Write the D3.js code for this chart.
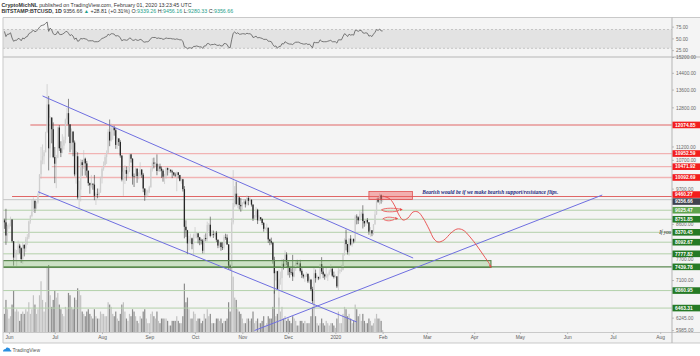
<!DOCTYPE html>
<html><head><meta charset="utf-8">
<script src="https://cdn.jsdelivr.net/npm/d3@7"></script>
<style>
html,body{margin:0;padding:0;background:#fff;}
svg{display:block;font-family:"Liberation Sans",Arial,sans-serif;}
</style></head><body>
<svg id="c" width="700" height="356"></svg>
<script>
// ---------------- DATA ----------------
const startDate = "2019-05-29";
// daily candles [open, high, low, close], BITSTAMP:BTCUSD 1D
const ohlc = [
[8720,8770,8470,8660],[8660,9070,8020,8280],[8280,8590,8100,8550],
// Jun
[8550,8630,8470,8560],[8560,8830,8540,8740],[8740,8760,8080,8120],[8120,8120,7470,7680],[7680,7900,7590,7790],
[7790,7880,7460,7810],[7810,8140,7760,8000],[8000,8050,7790,7930],[7930,7950,7540,7640],[7640,8090,7520,8020],
[8020,8030,7710,7920],[7920,8240,7830,8170],[8170,8320,8020,8230],[8230,8710,8180,8690],[8690,8880,8620,8850],
[8850,9350,8810,8980],[8980,9430,8980,9320],[9320,9330,8940,9080],[9080,9300,9050,9270],[9270,9580,9230,9530],
[9530,10210,9520,10200],[10200,11200,10050,10700],[10700,11300,10560,10850],[10850,11080,10560,11000],[11000,11800,11000,11780],
[11780,13880,11740,12950],[12950,13330,10340,11150],[11150,12440,10800,12380],[12380,12400,11340,11900],[11900,12180,10780,10820],
// Jul
[10820,11200,9900,10580],[10580,10900,9730,10800],[10800,12000,10780,11970],[11970,12070,11050,11150],[11150,11420,10820,10980],
[10980,11700,10960,11250],[11250,11600,11100,11480],[11480,12340,11340,12300],[12300,12800,12120,12570],[12570,13200,11600,12100],
[12100,12100,11000,11350],[11350,11930,11100,11800],[11800,11830,10850,11370],[11370,11450,10130,10200],[10200,11050,9880,10850],
[10850,11000,9370,9430],[9430,9980,9080,9680],[9680,10750,9300,10630],[10630,10720,10150,10530],[10530,11080,10390,10760],
[10760,10800,10160,10590],[10590,10680,10100,10330],[10330,10330,9810,9900],[9900,9920,9550,9830],[9830,10180,9750,9880],
[9880,9890,9680,9850],[9850,10180,9340,9480],[9480,9590,9190,9530],[9530,9720,9400,9510],[9510,9720,9400,9590],
[9590,10120,9580,10090],
// Aug
[10090,10450,9890,10400],[10400,10660,10330,10530],[10530,10910,10510,10820],[10820,11070,10570,10980],[10980,11900,10980,11800],
[11800,12300,11230,11450],[11450,12130,11410,11960],[11960,12050,11480,11970],[11970,12040,11640,11860],[11860,11950,11130,11280],
[11280,11570,11120,11530],[11530,11540,11240,11390],[11390,11460,10800,10880],[10880,10880,9960,10020],[10020,10440,9480,10300],
[10300,10530,9870,10350],[10350,10480,9980,10220],[10220,10480,10100,10320],[10320,10960,10280,10920],[10920,10940,10620,10760],
[10760,10780,9850,10130],[10130,10230,9770,10120],[10120,10440,10100,10400],[10400,10410,9910,10140],[10140,10270,10030,10140],
[10140,10630,10130,10370],[10370,10380,10080,10190],[10190,10250,9600,9720],[9720,9720,9320,9500],[9500,9680,9420,9590],
[9590,9680,9450,9630],
// Sep
[9630,9810,9570,9760],[9760,10450,9750,10380],[10380,10780,10300,10620],[10620,10800,10410,10580],[10580,10640,10460,10580],
[10580,10920,10170,10320],[10320,10560,10300,10480],[10480,10580,10300,10400],[10400,10480,10080,10330],[10330,10380,9950,10120],
[10120,10220,9870,10160],[10160,10450,10050,10420],[10420,10440,10160,10360],[10360,10420,10250,10360],[10360,10380,10260,10310],
[10310,10360,10070,10270],[10270,10270,10140,10190],[10190,10260,10110,10160],[10160,10300,9630,10270],[10270,10280,10060,10180],
[10180,10180,9960,9980],[9980,10080,9880,10030],[10030,10050,9620,9700],[9700,9800,8200,8530],[8530,8720,8240,8430],
[8430,8440,7770,8060],[8060,8270,7870,8190],[8190,8330,8060,8200],[8200,8220,7900,8040],[8040,8330,7720,8300],
// Oct
[8300,8520,8200,8300],[8300,8370,8200,8340],[8340,8350,8060,8230],[8230,8240,8010,8150],[8150,8190,8030,8140],
[8140,8180,7790,7860],[7860,8300,7770,8210],[8210,8340,8120,8180],[8180,8680,8110,8580],[8580,8640,8410,8590],
[8590,8830,8230,8270],[8270,8430,8270,8320],[8320,8420,8210,8300],[8300,8390,8250,8360],[8360,8410,8100,8160],
[8160,8170,7930,8000],[8000,8110,7940,8080],[8080,8100,7860,7960],[7960,8090,7880,7950],[7950,8290,7890,8230],
[8230,8330,8160,8220],[8220,8310,8020,8030],[8030,8040,7370,7470],[7470,7500,7360,7410],[7410,8790,7390,8660],
[8660,10350,8600,9250],[9250,9800,9120,9550],[9550,9950,9180,9220],[9220,9560,9090,9430],[9430,9440,9050,9190],
[9190,9410,8980,9150],
// Nov
[9150,9280,9040,9250],[9250,9380,9210,9300],[9300,9360,9110,9210],[9210,9500,9170,9410],[9410,9470,9180,9320],
[9320,9440,9290,9350],[9350,9370,9140,9200],[9200,9210,8700,8770],[8770,8880,8750,8810],[8810,9120,8780,9040],
[9040,9070,8610,8720],[8720,8870,8700,8810],[8810,8820,8710,8760],[8760,8780,8580,8640],[8640,8670,8390,8470],
[8470,8520,8440,8490],[8490,8620,8390,8500],[8500,8510,8070,8170],[8170,8190,8010,8120],[8120,8220,8030,8080],
[8080,8100,7520,7620],[7620,7700,6790,7280],[7280,7350,7100,7330],[7330,7340,6880,6900],[6900,7370,6520,7130],
[7130,7320,7000,7160],[7160,7650,6860,7520],[7520,7630,7370,7430],[7430,7870,7420,7760],[7760,7820,7480,7570],
// Dec
[7570,7570,7230,7420],[7420,7420,7170,7310],[7310,7400,7240,7300],[7300,7750,7090,7200],[7200,7490,7180,7400],
[7400,7600,7340,7540],[7540,7620,7480,7510],[7510,7580,7430,7530],[7530,7620,7300,7340],[7340,7400,7160,7240],
[7240,7270,7150,7200],[7200,7250,7070,7200],[7200,7310,7190,7260],[7260,7280,7040,7080],[7080,7200,7030,7120],
[7120,7140,6850,6890],[6890,6950,6560,6620],[6620,7430,6440,7280],[7280,7370,7050,7160],[7160,7230,7110,7190],
[7190,7190,7110,7150],[7150,7520,7130,7510],[7510,7690,7260,7320],[7320,7440,7160,7250],[7250,7270,7120,7200],
[7200,7440,7160,7200],[7200,7270,7090,7250],[7250,7370,7230,7320],[7320,7510,7300,7390],[7390,7410,7190,7220],
[7220,7320,7150,7190],
// Jan
[7190,7250,7160,7200],[7200,7210,6920,6960],[6960,7410,6870,7340],[7340,7390,7270,7360],[7360,7490,7310,7360],
[7360,7800,7350,7770],[7770,8200,7730,8160],[8160,8450,7870,8040],[8040,8050,7760,7820],[7820,8200,7730,8190],
[8190,8290,8000,8030],[8030,8190,7970,8180],[8180,8200,8060,8110],[8110,8880,8100,8830],[8830,8900,8600,8810],
[8810,8840,8610,8720],[8720,9010,8700,8910],[8910,8980,8800,8920],[8920,9180,8480,8700],[8700,8710,8530,8630],
[8630,8760,8560,8730],[8730,8790,8620,8660],[8660,8670,8300,8390],[8390,8520,8240,8430],[8430,8430,8260,8340],
[8340,8610,8300,8600],[8600,9000,8590,8900],[8900,9400,8880,9390],[9390,9430,9250,9290],[9290,9560,9200,9500],
[9500,9530,9230,9340],
// Feb 1
[9339.26,9456.16,9280.33,9356.66]
];
// daily volume, thousands of BTC
const volumes = [
8,14,10,
6,7,12,18,9,10,9,5,8,9,8,10,9,13,8,10,16,12,8,10,16,22,14,9,13,28,29,16,11,14,
18,15,17,12,10,8,7,11,10,17,16,11,10,15,14,19,18,16,9,8,7,9,10,8,7,6,10,7,6,6,9,
8,8,7,7,13,12,11,8,7,9,6,5,8,12,13,9,6,5,8,7,10,9,7,5,4,7,6,9,10,6,4,
4,8,9,7,6,9,5,4,6,6,6,6,5,3,3,5,5,5,7,5,4,4,7,21,13,15,10,6,6,9,
8,5,6,6,4,5,8,6,10,7,8,4,4,4,6,6,5,6,4,5,5,6,13,9,30,24,15,14,10,9,8,
6,4,4,6,6,5,6,9,4,5,6,4,4,5,7,3,4,7,6,6,11,18,7,8,15,9,11,6,7,5,
6,5,4,7,6,5,3,3,5,5,4,5,4,4,4,7,11,14,7,4,3,4,6,4,3,5,4,3,4,4,3,
2,6,9,4,4,8,11,10,7,8,6,4,5,12,10,7,8,5,8,5,4,4,6,5,3,4,6,8,6,6,5,
1
];
// RSI(14) daily values
const rsi = [
66,55,60,
60,63,52,45,47,47,51,50,46,52,50,54,55,61,63,65,69,65,67,70,75,78,79,80,83,86,66,73,69,61,
59,60,66,60,59,60,62,65,66,62,57,59,56,49,52,45,46,51,50,51,50,49,46,46,46,46,44,44,44,45,48,
51,52,54,55,60,58,61,61,60,56,57,56,52,46,48,48,47,48,52,51,47,47,49,47,47,49,48,44,43,44,44,
46,51,53,53,53,51,52,51,51,49,50,52,51,51,51,50,50,49,50,49,48,48,45,33,32,29,31,31,30,34,
34,35,34,33,33,30,35,35,40,40,37,38,38,39,37,36,37,35,35,40,40,38,32,31,48,62,65,61,63,60,60,
61,61,60,62,61,61,59,53,54,56,52,53,52,51,49,49,49,45,45,44,38,34,35,30,34,34,40,39,44,42,
40,39,39,38,41,43,43,43,41,40,39,39,40,38,39,35,31,43,42,42,42,48,45,44,44,44,45,46,47,44,44,
44,41,48,48,48,55,61,59,55,60,58,59,58,68,68,66,68,68,63,62,63,62,56,57,55,60,64,70,68,71,67,
67
];
const rsiLevels = [70, 30];
const rsiTicks = [75, 50, 25];

const priceTicks = [15200,14400,13600,12800,11200,10700,9700,8600,7700,7100,6245,5985];
const resistanceLevels = [12074.85, 10952.59, 10471.92, 10092.69, 9460.27];
const resistanceStarts = ["2019-06-15","2019-07-10","2019-06-29","2019-06-21","2019-06-03"];
const resistanceStrong = [true, false, false, false, true];
const supportLevels = [9025.47, 8751.85, 8370.45, 8092.67, 7777.82, 7439.78, 6860.95, 6463.31];
const supportStrong = [false, false, false, false, false, true, false, false];
const lastPrice = 9356.66;

const supportZone = {to:"2020-04-12", top:7600, bottom:7425};
const resistanceZone = {from:"2020-01-23", to:"2020-02-20T12:00", top:9622, bottom:9362};

const channelUpper = [["2019-06-23", 13330], ["2020-02-21", 7667]];
const channelLower = [["2019-06-20", 9614], ["2020-01-15", 6164]];
const risingLine   = [["2019-11-09", 5987], ["2020-06-24", 9506]];

const projDates  = ["2020-02-01","2020-02-05T19:00","2020-02-09","2020-02-11T17:00","2020-02-14T10:00","2020-02-17T14:00",
                    "2020-02-20T22:00","2020-02-24T05:00","2020-02-27T12:00","2020-03-02T10:00","2020-03-05T17:00","2020-03-08T07:00",
                    "2020-03-12T05:00","2020-03-16T19:00","2020-03-20T19:00","2020-03-24T17:00","2020-03-29T07:00","2020-04-02T22:00",
                    "2020-04-07T12:00","2020-04-12"];
const projPrices = [9474,9379,9156,8880,8729,8789,8971,8971,8789,8465,8181,8098,8152,8351,8465,8436,8239,7989,7720,7461];

const smallArrows = [
  {from:"2020-01-31", to:"2020-02-13", price:9032},
  {from:"2020-02-01", to:"2020-02-10", price:8760}
];

const noteText = "Bearish would be if we make bearish support/resistance flips.";
const noteAt = {date:"2020-02-27", price:9540};
const sideNote = "If you";
const sideNoteAt = {date:"2020-08-01", price:8330};

const monthTicks = ["2019-06-01","2019-07-01","2019-08-01","2019-09-01","2019-10-01","2019-11-01","2019-12-01",
                    "2020-01-01","2020-02-01","2020-03-01","2020-04-01","2020-05-01","2020-06-01","2020-07-01","2020-08-01"];

// ---------------- LAYOUT ----------------
const W = 700, H = 356;
const L = 3, R = 672, T = 17.5, SEP = 57, B = 332.5, AXB = 343;
const bg = "#f4f4f4", border = "#c9c9c9";

const parse = s => d3.isoParse(s.length === 10 ? s + "T00:00:00Z" : s + "Z");
const day0 = parse(startDate);
const dates = ohlc.map((_, i) => d3.utcDay.offset(day0, i));

const x = d3.scaleUtc().domain([parse("2019-06-01"), parse("2020-08-01")]).range([9, 660.2]);
const y = d3.scaleLog().domain([5985, 15200]).range([330.6, 57.5]);
const ry = d3.scaleLinear().domain([0, 100]).range([62.4, 15.4]);
const vy = d3.scaleLinear().domain([0, 32]).range([B, 258]);

const svg = d3.select("#c");
svg.append("rect").attr("width", W).attr("height", H).attr("fill", "#fff");
svg.append("rect").attr("x", L).attr("y", T).attr("width", W - L).attr("height", AXB - T).attr("fill", bg);

const defs = svg.append("defs");
defs.append("clipPath").attr("id", "cm").append("rect").attr("x", L).attr("y", SEP).attr("width", R - L).attr("height", B - SEP);
defs.append("clipPath").attr("id", "cr").append("rect").attr("x", L).attr("y", T).attr("width", R - L).attr("height", SEP - T);

// ---------- RSI pane ----------
const rp = svg.append("g").attr("clip-path", "url(#cr)");
rp.append("rect").attr("x", L).attr("width", R - L)
  .attr("y", ry(rsiLevels[0])).attr("height", ry(rsiLevels[1]) - ry(rsiLevels[0])).attr("fill", "#e3e3e3");
rp.selectAll("line.lv").data(rsiLevels).join("line")
  .attr("x1", L).attr("x2", R).attr("y1", d => ry(d)).attr("y2", d => ry(d))
  .attr("stroke", "#b4b4b4").attr("stroke-width", 0.7).attr("stroke-dasharray", "2,2");
rp.append("path").datum(rsi)
  .attr("d", d3.line().x((d, i) => x(dates[i])).y(d => ry(d)))
  .attr("fill", "none").attr("stroke", "#6a6a6a").attr("stroke-width", 0.9);

// ---------- main pane ----------
const mp = svg.append("g").attr("clip-path", "url(#cm)");

// volume
mp.selectAll("rect.vol").data(volumes).join("rect")
  .attr("x", (d, i) => x(dates[i]) - 0.6).attr("width", 1.2)
  .attr("y", d => vy(d)).attr("height", d => B - vy(d))
  .attr("fill", (d, i) => ohlc[i][3] >= ohlc[i][0] ? "#c2c2c2" : "#8c8c8c");

// support lines
supportLevels.forEach((v, i) => {
  mp.append("line").attr("x1", L).attr("x2", R).attr("y1", y(v)).attr("y2", y(v))
    .attr("stroke", supportStrong[i] ? "#5d8a52" : "#b3d0aa").attr("stroke-width", supportStrong[i] ? 1.4 : 1);
});
// last price line
mp.append("line").attr("x1", L).attr("x2", R).attr("y1", y(lastPrice)).attr("y2", y(lastPrice))
  .attr("stroke", "#c4c4c4").attr("stroke-width", 1);
// resistance lines
resistanceLevels.forEach((v, i) => {
  mp.append("line").attr("x1", x(parse(resistanceStarts[i]))).attr("x2", R).attr("y1", y(v)).attr("y2", y(v))
    .attr("stroke", resistanceStrong[i] ? "#e06666" : "#f1b3b3").attr("stroke-width", resistanceStrong[i] ? 1.1 : 1.3);
});

// candles
const cg = mp.append("g");
cg.selectAll("line.wick").data(ohlc).join("line")
  .attr("x1", (d, i) => x(dates[i])).attr("x2", (d, i) => x(dates[i]))
  .attr("y1", d => y(d[1])).attr("y2", d => y(d[2]))
  .attr("stroke", d => d[3] >= d[0] ? "#bdbdbd" : "#3a3a3a").attr("stroke-width", 0.6);
cg.selectAll("rect.body").data(ohlc).join("rect")
  .attr("x", (d, i) => x(dates[i]) - 0.65).attr("width", 1.3)
  .attr("y", d => y(Math.max(d[0], d[3])))
  .attr("height", d => Math.max(0.6, Math.abs(y(d[0]) - y(d[3]))))
  .attr("fill", d => d[3] >= d[0] ? "#cfcfcf" : "#262626");

// support zone
mp.append("rect").attr("x", L).attr("width", x(parse(supportZone.to)) - L)
  .attr("y", y(supportZone.top)).attr("height", y(supportZone.bottom) - y(supportZone.top))
  .attr("fill", "rgba(130,190,110,0.35)").attr("stroke", "#5d8a52").attr("stroke-width", 1.2);

// trend lines
[channelUpper, channelLower, risingLine].forEach(seg => {
  mp.append("line")
    .attr("x1", x(parse(seg[0][0]))).attr("y1", y(seg[0][1]))
    .attr("x2", x(parse(seg[1][0]))).attr("y2", y(seg[1][1]))
    .attr("stroke", "#6e6ee0").attr("stroke-width", 1);
});

// resistance zone
mp.append("rect").attr("x", x(parse(resistanceZone.from)))
  .attr("width", x(parse(resistanceZone.to)) - x(parse(resistanceZone.from)))
  .attr("y", y(resistanceZone.top)).attr("height", y(resistanceZone.bottom) - y(resistanceZone.top))
  .attr("fill", "rgba(240,90,90,0.45)").attr("stroke", "#e05050").attr("stroke-width", 0.8);

// projection path
const proj = projDates.map((d, i) => [x(parse(d)), y(projPrices[i])]);
mp.append("path").datum(proj).attr("d", d3.line().curve(d3.curveCatmullRom.alpha(0.5)))
  .attr("fill", "none").attr("stroke", "#e84a4a").attr("stroke-width", 0.9);
const pe = proj[proj.length - 1];
mp.append("path").attr("d", `M${pe[0]-2},${pe[1]-1.5} L${pe[0]+1.2},${pe[1]+1} L${pe[0]-1},${pe[1]+1.4}Z`).attr("fill", "#e84a4a");

// small arrows
smallArrows.forEach(a => {
  const x0 = x(parse(a.from)), x1 = x(parse(a.to)), ym = y(a.price);
  mp.append("path")
    .attr("d", `M${x0},${ym} C${x0+4},${ym-2.6} ${x1-5},${ym-2} ${x1},${ym-0.6} M${x1-2},${ym+0.4} C${x1-6},${ym+2.4} ${x0+3},${ym+2.2} ${x0+1},${ym+0.2}`)
    .attr("fill", "none").attr("stroke", "#e84a4a").attr("stroke-width", 0.8);
  mp.append("path").attr("d", `M${x1+1.8},${ym-0.4} L${x1-1.2},${ym-2} L${x1-0.8},${ym+1}Z`).attr("fill", "#e84a4a");
});

// annotation text
mp.append("text").attr("x", x(parse(noteAt.date))).attr("y", y(noteAt.price))
  .attr("font-family", "'Liberation Serif','DejaVu Serif',serif").attr("font-style", "italic").attr("font-weight", "bold")
  .attr("font-size", 6.2).attr("fill", "#1f2a80").attr("textLength", 136).attr("lengthAdjust", "spacingAndGlyphs")
  .text(noteText);
mp.append("text").attr("x", x(parse(sideNoteAt.date)) - 1).attr("y", y(sideNoteAt.price))
  .attr("font-family", "'Liberation Serif','DejaVu Serif',serif").attr("font-style", "italic")
  .attr("font-size", 5.8).attr("fill", "#222").attr("textLength", 12).attr("lengthAdjust", "spacingAndGlyphs").text(sideNote);

// ---------- borders ----------
const bl = (x1, y1, x2, y2, c, w) => svg.append("line").attr("x1", x1).attr("y1", y1).attr("x2", x2).attr("y2", y2)
  .attr("stroke", c || border).attr("stroke-width", w || 1);
bl(L, T, W, T);
bl(L, SEP, W, SEP, "#b5b5b5", 1.2);
bl(L, B, W, B);
bl(L, AXB, W, AXB);
bl(L, T, L, AXB);
bl(R, T, R, AXB, "#b5b5b5", 1);

// ---------- price labels (boxes) ----------
let labels = [
  ...resistanceLevels.map(v => ({v, c: "#f21d1d"})),
  {v: lastPrice, c: "#40434f"},
  ...supportLevels.map(v => ({v, c: v === 9025.47 ? "#5ea34c" : "#257a25"}))
];
labels.forEach(l => l.y = y(l.v));
labels.sort((a, b) => a.y - b.y);
for (let k = 0; k < 6; k++) {
  for (let i = 0; i < labels.length - 1; i++) {
    const d = labels[i + 1].y - labels[i].y;
    if (d < 7) { const o = (7 - d) / 2; labels[i].y -= o; labels[i + 1].y += o; }
  }
}
const BH = 6.6;

// ---------- right axis ticks ----------
const ax = svg.append("g").attr("font-size", 4.8).attr("fill", "#6a6a6a");
rsiTicks.forEach(v => {
  bl(R, ry(v), R + 2, ry(v), "#999", 0.6);
  ax.append("text").attr("x", R + 4).attr("y", ry(v) + 1.7).text(v.toFixed(2));
});
priceTicks.forEach(v => {
  const ty = y(v);
  let cy = ty;                       // centre of the text
  const half = 1.9;
  labels.forEach(l => {              // keep tick text clear of the value boxes
    const top = l.y - BH / 2, bot = l.y + BH / 2;
    if (cy + half > top && cy - half < bot) {
      cy = (cy >= l.y) ? bot + half + 0.3 : top - half - 0.3;
    }
  });
  bl(R, ty, R + 2, ty, "#999", 0.6);
  ax.append("text").attr("x", R + 4).attr("y", cy + 1.7).text(v.toFixed(2));
});

const lg = svg.append("g");
labels.forEach(l => {
  lg.append("rect").attr("x", R + 0.5).attr("y", l.y - BH / 2).attr("width", W - R - 0.5).attr("height", BH).attr("fill", l.c);
  lg.append("text").attr("x", R + 3).attr("y", l.y + 1.75).attr("font-size", 4.9).attr("font-weight", "bold")
    .attr("fill", "#fff").text(l.v.toFixed(2));
});

// ---------- time axis ----------
const xa = svg.append("g").attr("transform", `translate(0,${B})`)
  .call(d3.axisBottom(x).tickValues(monthTicks.map(parse)).tickSize(1.5).tickPadding(1.8)
        .tickFormat(d => d.getUTCMonth() === 0 ? d3.utcFormat("%Y")(d) : d3.utcFormat("%b")(d)));
xa.select(".domain").remove();
xa.selectAll(".tick line").attr("stroke", "#999").attr("stroke-width", 0.6);
xa.selectAll(".tick text").attr("font-size", 4.9).attr("fill", "#5a5a5a").attr("font-family", "'Liberation Sans',Arial,sans-serif");

// ---------- header ----------
const h1 = svg.append("text").attr("x", 1.5).attr("y", 6.6).attr("font-size", 5.3).attr("fill", "#333");
h1.append("tspan").attr("font-weight", "bold").text("CryptoMichNL");
h1.append("tspan").text(" published on TradingView.com, February 01, 2020 13:23:45 UTC");
const h2 = svg.append("text").attr("x", 1.5).attr("y", 12.6).attr("font-size", 5.3).attr("fill", "#333");
const teal = "#1e9e8a";
h2.append("tspan").attr("font-weight", "bold").text("BITSTAMP:BTCUSD, 1D ");
h2.append("tspan").text("9356.66 ");
h2.append("tspan").attr("fill", teal).text("▲");
h2.append("tspan").text(" +28.81 (+0.31%) O:");
h2.append("tspan").attr("fill", teal).text("9339.26");
h2.append("tspan").text(" H:");
h2.append("tspan").attr("fill", teal).text("9456.16");
h2.append("tspan").text(" L:");
h2.append("tspan").attr("fill", teal).text("9280.33");
h2.append("tspan").text(" C:");
h2.append("tspan").attr("fill", teal).text("9356.66");

// ---------- footer ----------
svg.append("path").attr("d", "M3,351.5 q0,-2.6 2.6,-2.6 q0.6,-1.8 2.6,-1.2 q2.2,0.2 2,2.4 q1.6,0.4 1.2,1.4 Z")
  .attr("fill", "#2a8fe0");
svg.append("text").attr("x", 12.5).attr("y", 351.8).attr("font-size", 5).attr("fill", "#555").text("TradingView");
</script>
</body></html>
